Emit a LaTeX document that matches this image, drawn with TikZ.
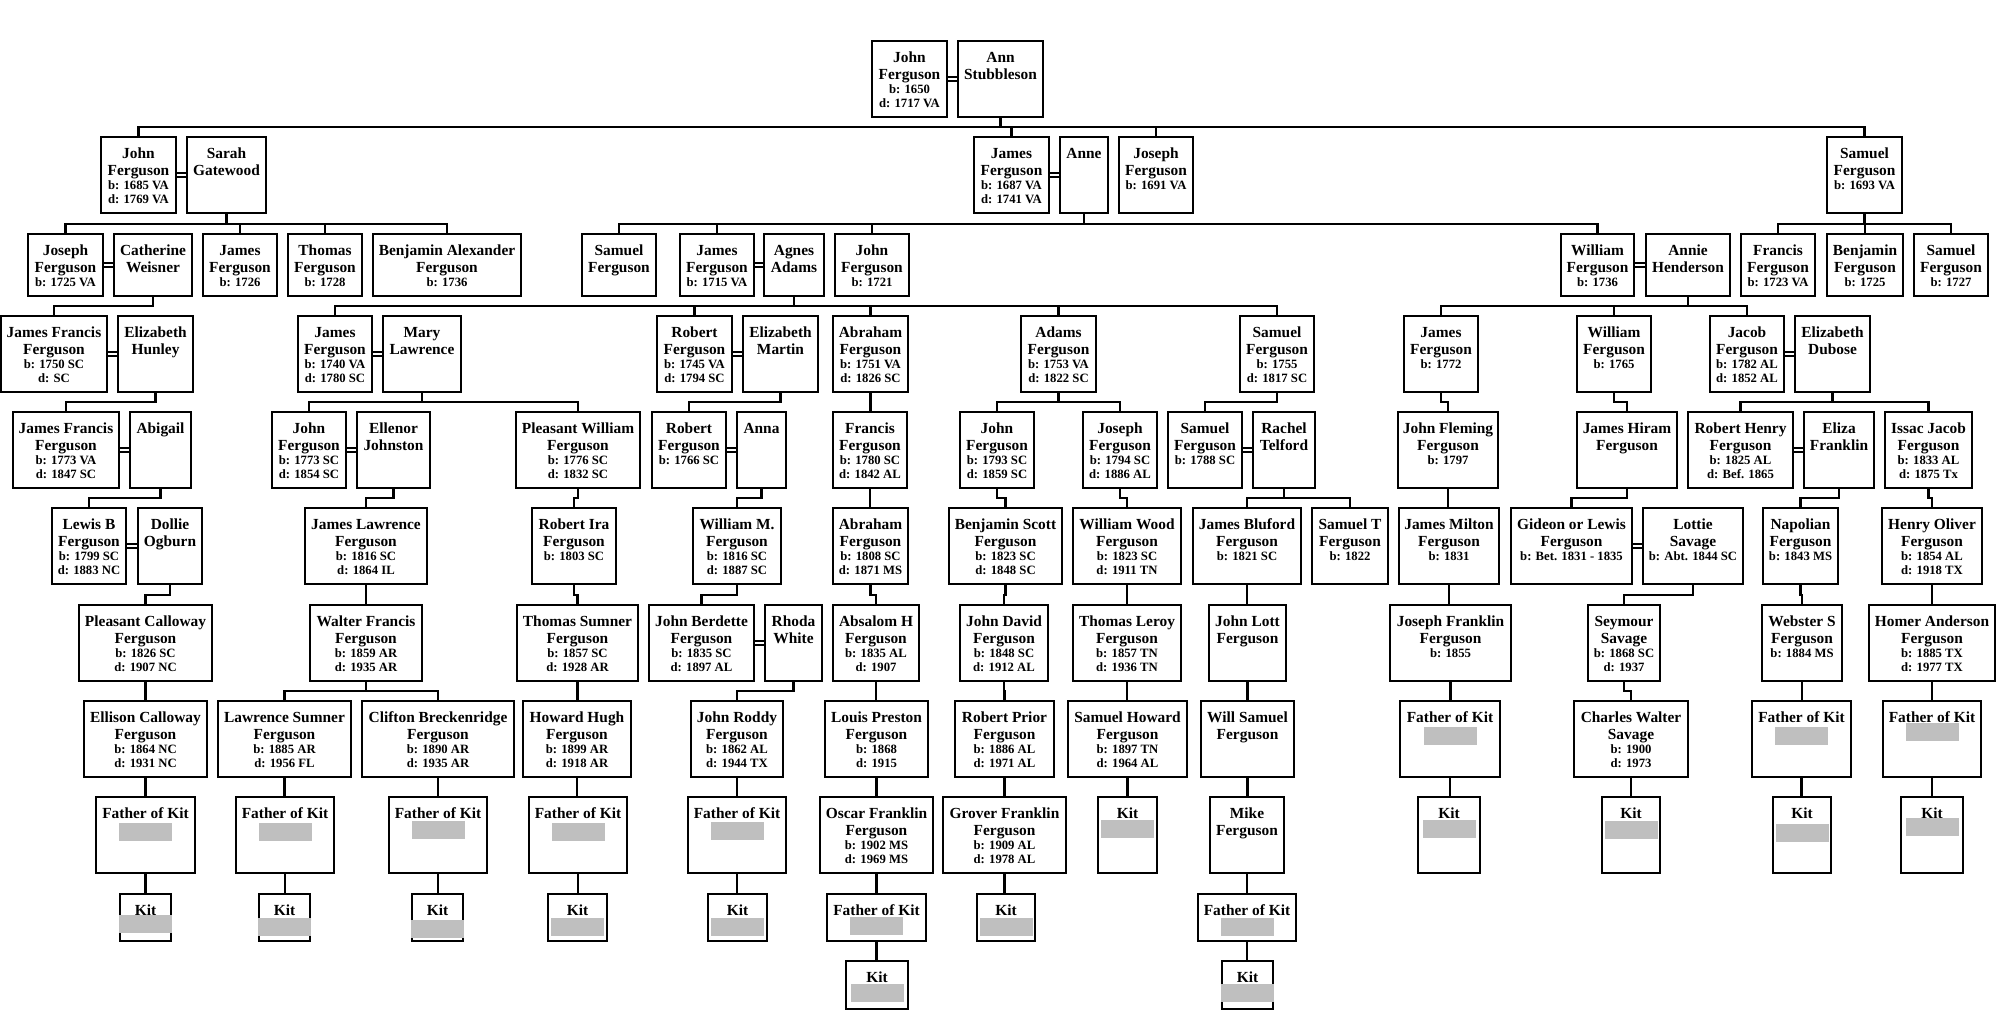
\documentclass[tikz,border=0pt]{standalone}
\usepackage{fontspec}
\setmainfont{Liberation Serif}
\newcommand\nf{\fontsize{15.4}{17}\selectfont\bfseries}
\newcommand\df{\fontsize{12.7}{14}\selectfont\bfseries}
\tikzset{
 pbx/.style={draw=black, line width=2.8pt, fill=white, inner sep=0pt, outer sep=0pt, rectangle},
 ptx/.style={anchor=base, inner sep=0pt, outer sep=0pt},
 conn/.style={draw=black, line width=2.8pt},
 marr/.style={draw=black, line width=1.3pt},
 gry/.style={fill=gray!50}
}
\newcommand\pb[6]{%
 \node[pbx, minimum width={#4-#2}, minimum height={#5-#3}] (#1) at ({(#2+#4)/2},{(#3+#5)/2}) {};
 \node[ptx] (#1t) at ({(#2+#4)/2},{#3+21}) {\parbox[t]{\dimexpr#4pt-#2pt+30pt\relax}{\centering\nf #6}};}
\newcommand\cn[2]{\draw[conn] (#1.south) |- ([yshift=10pt]#2.north) -- (#2.north);}
\newcommand\cs[2]{\draw[conn] (#1.south) -- (#1.south |- #2.north);}
\newcommand\mr[2]{\draw[marr] ([yshift=2pt]#1.east) -- ([yshift=2pt]#2.west);
 \draw[marr] ([yshift=-2pt]#1.east) -- ([yshift=-2pt]#2.west);}
\newcommand\gb[2]{\fill[gry] ([xshift=-26.5pt,yshift=-#2pt]#1.north) rectangle ++(53pt,-18pt);}
\begin{document}
\begin{tikzpicture}[x=1pt,y=-1pt]
\fill[white] (0,0) rectangle (1996,1010);
\useasboundingbox (0,0) rectangle (1996,1010);
% Row A
\pb{jfa}{872}{41}{947}{117}{John\\Ferguson\\\df b: 1650\\d: 1717 VA}
\pb{ann}{958}{41}{1043}{117}{Ann\\Stubbleson}
\mr{jfa}{ann}
% Row B
\pb{jfb}{101}{137}{176}{213}{John\\Ferguson\\\df b: 1685 VA\\d: 1769 VA}
\pb{sarah}{187}{137}{266}{213}{Sarah\\Gatewood}
\pb{jamesb}{974}{137}{1049}{213}{James\\Ferguson\\\df b: 1687 VA\\d: 1741 VA}
\pb{anne}{1060}{137}{1108}{213}{Anne}
\pb{josephb}{1119}{137}{1193}{213}{Joseph\\Ferguson\\\df b: 1691 VA}
\pb{samuelb}{1827}{137}{1902}{213}{Samuel\\Ferguson\\\df b: 1693 VA}
\mr{jfb}{sarah}\mr{jamesb}{anne}
\cn{ann}{jfb}\cn{ann}{jamesb}\cn{ann}{josephb}\cn{ann}{samuelb}
% Row C
\pb{josephc}{28}{234}{103}{296}{Joseph\\Ferguson\\\df b: 1725 VA}
\pb{cath}{114}{234}{192}{296}{Catherine\\Weisner}
\pb{jamesc}{203}{234}{277}{296}{James\\Ferguson\\\df b: 1726}
\pb{thomasc}{288}{234}{362}{296}{Thomas\\Ferguson\\\df b: 1728}
\pb{benjac}{373}{234}{521}{296}{Benjamin Alexander\\Ferguson\\\df b: 1736}
\mr{josephc}{cath}
\cn{sarah}{josephc}\cn{sarah}{jamesc}\cn{sarah}{thomasc}\cn{sarah}{benjac}
\pb{samuelc}{582}{234}{656}{296}{Samuel\\Ferguson}
\pb{jamesctwo}{680}{234}{754}{296}{James\\Ferguson\\\df b: 1715 VA}
\pb{agnes}{764}{234}{824}{296}{Agnes\\Adams}
\pb{johnc}{835}{234}{909}{296}{John\\Ferguson\\\df b: 1721}
\pb{williamc}{1561}{234}{1634}{296}{William\\Ferguson\\\df b: 1736}
\pb{annie}{1646}{234}{1730}{296}{Annie\\Henderson}
\mr{jamesctwo}{agnes}\mr{williamc}{annie}
\cn{anne}{samuelc}\cn{anne}{jamesctwo}\cn{anne}{johnc}\cn{anne}{williamc}
\pb{francisc}{1741}{234}{1815}{296}{Francis\\Ferguson\\\df b: 1723 VA}
\pb{benjc}{1827}{234}{1903}{296}{Benjamin\\Ferguson\\\df b: 1725}
\pb{samuelctwo}{1914}{234}{1988}{296}{Samuel\\Ferguson\\\df b: 1727}
\cn{samuelb}{francisc}\cn{samuelb}{benjc}\cn{samuelb}{samuelctwo}
% Row D
\pb{jfd}{1}{316}{107}{392}{James Francis\\Ferguson\\\df b: 1750 SC\\d: SC}
\pb{hunley}{118}{316}{193}{392}{Elizabeth\\Hunley}
\mr{jfd}{hunley}\cn{cath}{jfd}
\pb{jamesd}{298}{316}{372}{392}{James\\Ferguson\\\df b: 1740 VA\\d: 1780 SC}
\pb{mary}{383}{316}{461}{392}{Mary\\Lawrence}
\pb{robertd}{657}{316}{732}{392}{Robert\\Ferguson\\\df b: 1745 VA\\d: 1794 SC}
\pb{emartin}{743}{316}{818}{392}{Elizabeth\\Martin}
\pb{abrahamd}{833}{316}{908}{392}{Abraham\\Ferguson\\\df b: 1751 VA\\d: 1826 SC}
\pb{adamsd}{1021}{316}{1096}{392}{Adams\\Ferguson\\\df b: 1753 VA\\d: 1822 SC}
\pb{samueld}{1240}{316}{1314}{392}{Samuel\\Ferguson\\\df b: 1755\\d: 1817 SC}
\mr{jamesd}{mary}\mr{robertd}{emartin}
\cn{agnes}{jamesd}\cn{agnes}{robertd}\cn{agnes}{abrahamd}\cn{agnes}{adamsd}\cn{agnes}{samueld}
\pb{jamesdtwo}{1404}{316}{1478}{392}{James\\Ferguson\\\df b: 1772}
\pb{williamd}{1577}{316}{1651}{392}{William\\Ferguson\\\df b: 1765}
\pb{jacobd}{1710}{316}{1784}{392}{Jacob\\Ferguson\\\df b: 1782 AL\\d: 1852 AL}
\pb{dubose}{1795}{316}{1870}{392}{Elizabeth\\Dubose}
\mr{jacobd}{dubose}
\cn{annie}{jamesdtwo}\cn{annie}{williamd}\cn{annie}{jacobd}
% Row E
\pb{jfe}{13}{412}{119}{488}{James Francis\\Ferguson\\\df b: 1773 VA\\d: 1847 SC}
\pb{abigail}{130}{412}{191}{488}{Abigail}
\mr{jfe}{abigail}\cn{hunley}{jfe}
\pb{johne}{272}{412}{346}{488}{John\\Ferguson\\\df b: 1773 SC\\d: 1854 SC}
\pb{ellenor}{357}{412}{430}{488}{Ellenor\\Johnston}
\pb{pleasantw}{516}{412}{640}{488}{Pleasant William\\Ferguson\\\df b: 1776 SC\\d: 1832 SC}
\mr{johne}{ellenor}\cn{mary}{johne}\cn{mary}{pleasantw}
\pb{roberte}{652}{412}{726}{488}{Robert\\Ferguson\\\df b: 1766 SC}
\pb{anna}{737}{412}{786}{488}{Anna}
\mr{roberte}{anna}\cn{emartin}{roberte}
\pb{francise}{833}{412}{907}{488}{Francis\\Ferguson\\\df b: 1780 SC\\d: 1842 AL}
\cs{abrahamd}{francise}
\pb{johnetwo}{960}{412}{1034}{488}{John\\Ferguson\\\df b: 1793 SC\\d: 1859 SC}
\pb{josephe}{1083}{412}{1157}{488}{Joseph\\Ferguson\\\df b: 1794 SC\\d: 1886 AL}
\cn{adamsd}{johnetwo}\cn{adamsd}{josephe}
\pb{samuele}{1168}{412}{1242}{488}{Samuel\\Ferguson\\\df b: 1788 SC}
\pb{telford}{1253}{412}{1315}{488}{Rachel\\Telford}
\mr{samuele}{telford}\cn{samueld}{samuele}
\pb{johnfl}{1398}{412}{1498}{488}{John Fleming\\Ferguson\\\df b: 1797}
\cn{jamesdtwo}{johnfl}
\pb{hiram}{1577}{412}{1677}{488}{James Hiram\\Ferguson}
\cn{williamd}{hiram}
\pb{rhenry}{1688}{412}{1793}{488}{Robert Henry\\Ferguson\\\df b: 1825 AL\\d: Bef. 1865}
\pb{eliza}{1804}{412}{1874}{488}{Eliza\\Franklin}
\pb{issac}{1885}{412}{1972}{488}{Issac Jacob\\Ferguson\\\df b: 1833 AL\\d: 1875 Tx}
\mr{rhenry}{eliza}\cn{dubose}{rhenry}\cn{dubose}{issac}
% Row F
\pb{lewis}{52}{508}{126}{584}{Lewis B\\Ferguson\\\df b: 1799 SC\\d: 1883 NC}
\pb{dollie}{138}{508}{202}{584}{Dollie\\Ogburn}
\mr{lewis}{dollie}\cn{abigail}{lewis}
\pb{jlaw}{305}{508}{427}{584}{James Lawrence\\Ferguson\\\df b: 1816 SC\\d: 1864 IL}
\cn{ellenor}{jlaw}
\pb{rira}{532}{508}{616}{584}{Robert Ira\\Ferguson\\\df b: 1803 SC}
\cn{pleasantw}{rira}
\pb{wm}{693}{508}{781}{584}{William M.\\Ferguson\\\df b: 1816 SC\\d: 1887 SC}
\cn{anna}{wm}
\pb{abrahamf}{833}{508}{908}{584}{Abraham\\Ferguson\\\df b: 1808 SC\\d: 1871 MS}
\cs{francise}{abrahamf}
\pb{bscott}{949}{508}{1062}{584}{Benjamin Scott\\Ferguson\\\df b: 1823 SC\\d: 1848 SC}
\cn{johnetwo}{bscott}
\pb{wwood}{1073}{508}{1181}{584}{William Wood\\Ferguson\\\df b: 1823 SC\\d: 1911 TN}
\cn{josephe}{wwood}
\pb{jbluford}{1193}{508}{1301}{584}{James Bluford\\Ferguson\\\df b: 1821 SC}
\pb{samuelt}{1312}{508}{1388}{584}{Samuel T\\Ferguson\\\df b: 1822}
\cn{telford}{jbluford}\cn{telford}{samuelt}
\pb{jmilton}{1399}{508}{1499}{584}{James Milton\\Ferguson\\\df b: 1831}
\cs{johnfl}{jmilton}
\pb{gideon}{1511}{508}{1632}{584}{Gideon or Lewis\\Ferguson\\\df b: Bet. 1831 - 1835}
\pb{lottie}{1643}{508}{1743}{584}{Lottie\\Savage\\\df b: Abt. 1844 SC}
\mr{gideon}{lottie}\cn{hiram}{gideon}
\pb{napolian}{1763}{508}{1838}{584}{Napolian\\Ferguson\\\df b: 1843 MS}
\cn{eliza}{napolian}
\pb{holiver}{1882}{508}{1982}{584}{Henry Oliver\\Ferguson\\\df b: 1854 AL\\d: 1918 TX}
\cn{issac}{holiver}
% Row G
\pb{pcall}{79}{605}{212}{681}{Pleasant Calloway\\Ferguson\\\df b: 1826 SC\\d: 1907 NC}
\cn{dollie}{pcall}
\pb{walter}{310}{605}{422}{681}{Walter Francis\\Ferguson\\\df b: 1859 AR\\d: 1935 AR}
\cs{jlaw}{walter}
\pb{tsumner}{517}{605}{638}{681}{Thomas Sumner\\Ferguson\\\df b: 1857 SC\\d: 1928 AR}
\cn{rira}{tsumner}
\pb{jberdette}{649}{605}{754}{681}{John Berdette\\Ferguson\\\df b: 1835 SC\\d: 1897 AL}
\pb{rhoda}{765}{605}{822}{681}{Rhoda\\White}
\mr{jberdette}{rhoda}\cn{wm}{jberdette}
\pb{absalom}{833}{605}{919}{681}{Absalom H\\Ferguson\\\df b: 1835 AL\\d: 1907}
\cn{abrahamf}{absalom}
\pb{jdavid}{960}{605}{1048}{681}{John David\\Ferguson\\\df b: 1848 SC\\d: 1912 AL}
\cn{bscott}{jdavid}
\pb{tleroy}{1073}{605}{1181}{681}{Thomas Leroy\\Ferguson\\\df b: 1857 TN\\d: 1936 TN}
\cs{wwood}{tleroy}
\pb{jlott}{1209}{605}{1286}{681}{John Lott\\Ferguson}
\cs{jbluford}{jlott}
\pb{jfranklin}{1390}{605}{1511}{681}{Joseph Franklin\\Ferguson\\\df b: 1855}
\cs{jmilton}{jfranklin}
\pb{seymour}{1588}{605}{1660}{681}{Seymour\\Savage\\\df b: 1868 SC\\d: 1937}
\cn{lottie}{seymour}
\pb{webster}{1762}{605}{1842}{681}{Webster S\\Ferguson\\\df b: 1884 MS}
\cn{napolian}{webster}
\pb{homer}{1869}{605}{1995}{681}{Homer Anderson\\Ferguson\\\df b: 1885 TX\\d: 1977 TX}
\cs{holiver}{homer}
% Row H
\pb{ellison}{84}{701}{207}{777}{Ellison Calloway\\Ferguson\\\df b: 1864 NC\\d: 1931 NC}
\cs{pcall}{ellison}
\pb{lsumner}{218}{701}{351}{777}{Lawrence Sumner\\Ferguson\\\df b: 1885 AR\\d: 1956 FL}
\pb{clifton}{362}{701}{514}{777}{Clifton Breckenridge\\Ferguson\\\df b: 1890 AR\\d: 1935 AR}
\cn{walter}{lsumner}\cn{walter}{clifton}
\pb{hhugh}{523}{701}{631}{777}{Howard Hugh\\Ferguson\\\df b: 1899 AR\\d: 1918 AR}
\cs{tsumner}{hhugh}
\pb{jroddy}{691}{701}{783}{777}{John Roddy\\Ferguson\\\df b: 1862 AL\\d: 1944 TX}
\cn{rhoda}{jroddy}
\pb{louis}{825}{701}{928}{777}{Louis Preston\\Ferguson\\\df b: 1868\\d: 1915}
\cs{absalom}{louis}
\pb{rprior}{955}{701}{1054}{777}{Robert Prior\\Ferguson\\\df b: 1886 AL\\d: 1971 AL}
\cn{jdavid}{rprior}
\pb{showard}{1068}{701}{1187}{777}{Samuel Howard\\Ferguson\\\df b: 1897 TN\\d: 1964 AL}
\cs{tleroy}{showard}
\pb{wsamuel}{1201}{701}{1294}{777}{Will Samuel\\Ferguson}
\cs{jlott}{wsamuel}
\pb{fokjf}{1400}{701}{1500}{777}{Father of Kit}\gb{fokjf}{26}
\cs{jfranklin}{fokjf}
\pb{charles}{1574}{701}{1688}{777}{Charles Walter\\Savage\\\df b: 1900\\d: 1973}
\cn{seymour}{charles}
\pb{fokws}{1752}{701}{1851}{777}{Father of Kit}\gb{fokws}{26}
\cs{webster}{fokws}
\pb{fokha}{1883}{701}{1981}{777}{Father of Kit}\gb{fokha}{22}
\cs{homer}{fokha}
% Row I
\pb{foke}{96}{797}{195}{873}{Father of Kit}\gb{foke}{26}
\cs{ellison}{foke}
\pb{fokl}{236}{797}{334}{873}{Father of Kit}\gb{fokl}{26}
\cs{lsumner}{fokl}
\pb{fokc}{389}{797}{487}{873}{Father of Kit}\gb{fokc}{24}
\cs{clifton}{fokc}
\pb{fokh}{529}{797}{627}{873}{Father of Kit}\gb{fokh}{26}
\cs{hhugh}{fokh}
\pb{fokjr}{688}{797}{786}{873}{Father of Kit}\gb{fokjr}{25}
\cs{jroddy}{fokjr}
\pb{oscar}{820}{797}{933}{873}{Oscar Franklin\\Ferguson\\\df b: 1902 MS\\d: 1969 MS}
\cs{louis}{oscar}
\pb{grover}{943}{797}{1066}{873}{Grover Franklin\\Ferguson\\\df b: 1909 AL\\d: 1978 AL}
\cs{rprior}{grover}
\pb{kitsh}{1098}{797}{1157}{873}{Kit}\gb{kitsh}{23}
\cs{showard}{kitsh}
\pb{mike}{1210}{797}{1284}{873}{Mike\\Ferguson}
\cs{wsamuel}{mike}
\pb{kitjf}{1418}{797}{1480}{873}{Kit}\gb{kitjf}{23}
\cs{fokjf}{kitjf}
\pb{kitcw}{1602}{797}{1660}{873}{Kit}\gb{kitcw}{24}
\cs{charles}{kitcw}
\pb{kitws}{1773}{797}{1831}{873}{Kit}\gb{kitws}{27}
\cs{fokws}{kitws}
\pb{kitha}{1901}{797}{1963}{873}{Kit}\gb{kitha}{21}
\cs{fokha}{kitha}
% Row J
\pb{kite}{120}{894}{171}{941}{Kit}\gb{kite}{21}
\cs{foke}{kite}
\pb{kitl}{259}{894}{310}{941}{Kit}\gb{kitl}{24}
\cs{fokl}{kitl}
\pb{kitc}{412}{894}{463}{941}{Kit}\gb{kitc}{26}
\cs{fokc}{kitc}
\pb{kith}{548}{894}{607}{941}{Kit}\gb{kith}{24}
\cs{fokh}{kith}
\pb{kitjr}{708}{894}{767}{941}{Kit}\gb{kitjr}{24}
\cs{fokjr}{kitjr}
\pb{foko}{827}{894}{926}{941}{Father of Kit}\gb{foko}{23}
\cs{oscar}{foko}
\pb{kitg}{977}{894}{1035}{941}{Kit}\gb{kitg}{24}
\cs{grover}{kitg}
\pb{fokm}{1198}{894}{1296}{941}{Father of Kit}\gb{fokm}{24}
\cs{mike}{fokm}
% Row K
\pb{kito}{846}{961}{908}{1009}{Kit}\gb{kito}{23}
\cs{foko}{kito}
\pb{kitm}{1222}{961}{1273}{1009}{Kit}\gb{kitm}{23}
\cs{fokm}{kitm}
\end{tikzpicture}
\end{document}
